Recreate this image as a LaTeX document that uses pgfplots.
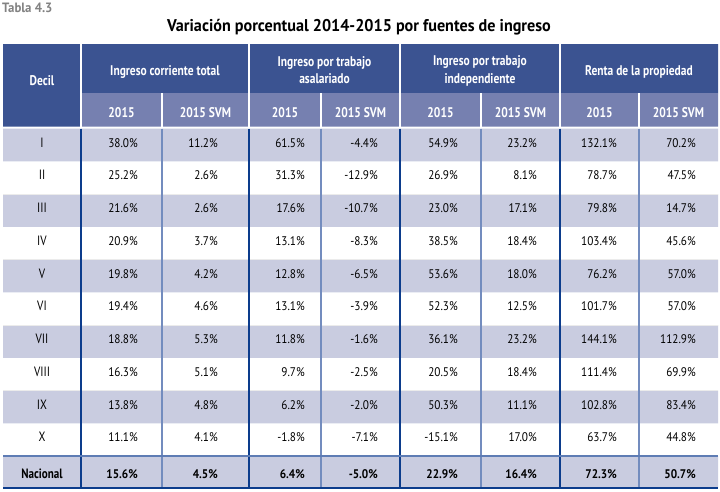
\documentclass[border=0pt]{standalone}
\usepackage{pgfplots}
\pgfplotsset{compat=1.18}
\usepackage{pgfplotstable}
\usepackage{fontspec}
\setmainfont{PT Sans}[FakeStretch=0.82]
\newfontfamily\numf{PT Sans}[FakeStretch=0.9]
\newfontfamily\titf{PT Sans}[FakeStretch=0.95]
\definecolor{hdark}{RGB}{59,83,145}
\definecolor{hsub}{RGB}{118,128,176}
\definecolor{shade}{RGB}{201,204,224}
\definecolor{lthick}{RGB}{12,60,140}
\definecolor{lthin}{RGB}{115,140,190}
\definecolor{tgray}{RGB}{130,130,130}

\pgfplotstableread{
y      dec   c1    c2    c3    c4     c5    c6    c7    c8
147    I     38.0  11.2  61.5  -4.4   54.9  23.2  132.1 70.2
179.75 II    25.2  2.6   31.3  -12.9  26.9  8.1   78.7  47.5
212.5  III   21.6  2.6   17.6  -10.7  23.0  17.1  79.8  14.7
245.25 IV    20.9  3.7   13.1  -8.3   38.5  18.4  103.4 45.6
278    V     19.8  4.2   12.8  -6.5   53.6  18.0  76.2  57.0
310.75 VI    19.4  4.6   13.1  -3.9   52.3  12.5  101.7 57.0
343.5  VII   18.8  5.3   11.8  -1.6   36.1  23.2  144.1 112.9
376.25 VIII  16.3  5.1   9.7   -2.5   20.5  18.4  111.4 69.9
409    IX    13.8  4.8   6.2   -2.0   50.3  11.1  102.8 83.4
441.75 X     11.1  4.1   -1.8  -7.1   -15.1 17.0  63.7  44.8
}\deciles
\pgfplotstableread{
y      dec      c1    c2    c3    c4     c5    c6    c7    c8
478    Nacional 15.6  4.5   6.4   -5.0   22.9  16.4  72.3  50.7
}\nacional

\newcommand{\cell}[5]{\addplot[fill=#1, draw=none, forget plot] coordinates {(#2,#3) (#4,#3) (#4,#5) (#2,#5) (#2,#3)};}
\newcommand{\vseg}[5]{\addplot[draw=#1, line width=#2, forget plot] coordinates {(#3,#4) (#3,#5)};}

\pgfplotsset{
  txt/.style={draw=none, mark=none, forget plot, nodes near coords, point meta=explicit symbolic,
    every node near coord/.append style={inner sep=0pt, anchor=base east, text=black}},
  numfont/.style={every node near coord/.append style={font=\numf\fontsize{12.5}{14}\selectfont}},
  boldnum/.style={every node near coord/.append style={font=\numf\fontsize{12.5}{14}\selectfont\bfseries}},
  decfont/.style={every node near coord/.append style={font=\fontsize{13.5}{15}\selectfont}},
  decbold/.style={every node near coord/.append style={font=\fontsize{13.5}{15}\selectfont\bfseries}},
  hdr/.style={draw=none, mark=none, forget plot, nodes near coords, point meta=explicit symbolic,
    every node near coord/.append style={inner sep=0pt, anchor=base, text=white, font=\fontsize{14}{16}\selectfont\bfseries}},
}

\begin{document}
\begin{tikzpicture}
\begin{axis}[
  width=720pt, height=491pt, scale only axis,
  xmin=0, xmax=720, ymin=0, ymax=491, y dir=reverse,
  hide axis, clip=false,
]
% background
\cell{white}{0}{0}{720}{491}
% header blocks
\cell{hdark}{3}{44}{718}{93}
\cell{hdark}{3}{44}{81}{126.5}
\cell{hsub}{81}{93}{718}{126.5}
% white separators in header
\vseg{white}{2pt}{81}{44}{126.5}
\vseg{white}{2pt}{249}{44}{126.5}
\vseg{white}{2pt}{400}{44}{126.5}
\vseg{white}{2pt}{560}{44}{126.5}
\vseg{white}{2pt}{162}{93}{126.5}
\vseg{white}{2pt}{321}{93}{126.5}
\vseg{white}{2pt}{481}{93}{126.5}
\vseg{white}{2pt}{639}{93}{126.5}
% shaded rows
\cell{shade}{3}{128.5}{718}{161.25}
\cell{shade}{3}{194}{718}{226.75}
\cell{shade}{3}{259.5}{718}{292.25}
\cell{shade}{3}{325}{718}{357.75}
\cell{shade}{3}{390.5}{718}{423.25}
\cell{shade}{3}{456}{718}{488}
% light separators between rows
\addplot[draw=black!8, line width=0.8pt, forget plot] coordinates {(3,194) (718,194)};
\addplot[draw=black!8, line width=0.8pt, forget plot] coordinates {(3,259.5) (718,259.5)};
\addplot[draw=black!8, line width=0.8pt, forget plot] coordinates {(3,325) (718,325)};
\addplot[draw=black!8, line width=0.8pt, forget plot] coordinates {(3,390.5) (718,390.5)};
% vertical grid lines in body
\vseg{lthin}{1.5pt}{162}{128.5}{488}
\vseg{lthin}{1.5pt}{321}{128.5}{488}
\vseg{lthin}{1.5pt}{481}{128.5}{488}
\vseg{lthin}{1.5pt}{639}{128.5}{488}
\vseg{lthick}{2pt}{81}{128.5}{488}
\vseg{lthick}{2pt}{249}{128.5}{488}
\vseg{lthick}{2pt}{400}{128.5}{488}
\vseg{lthick}{2pt}{560}{128.5}{488}
% Nacional borders
\addplot[draw=lthin!80!lthick, line width=1.5pt, forget plot] coordinates {(3,456) (718,456)};
\addplot[draw=lthick, line width=2pt, forget plot] coordinates {(3,488) (718,488)};

% title
\addplot[draw=none, mark=none, forget plot, nodes near coords, point meta=explicit symbolic,
  every node near coord/.append style={inner sep=0pt, anchor=base west, text=tgray, font=\titf\fontsize{13.5}{15}\selectfont\bfseries}]
  coordinates {(2,12) [Tabla 4.3]};
\addplot[draw=none, mark=none, forget plot, nodes near coords, point meta=explicit symbolic,
  every node near coord/.append style={inner sep=0pt, anchor=base, text=black, font=\titf\fontsize{17}{19}\selectfont\bfseries}]
  coordinates {(359,31) [Variación porcentual 2014-2015 por fuentes de ingreso]};

% header texts
\addplot[hdr] coordinates {(42,85) [Decil] (165,75) [Ingreso corriente total]
  (324.5,66) [Ingreso por trabajo] (324.5,83) [asalariado]
  (480,65) [Ingreso por trabajo] (480,83) [independiente]
  (639,75) [Renta de la propiedad]};
\addplot[hdr] coordinates {(121.5,117) [2015] (205.5,117) [2015 SVM]
  (285,117) [2015] (360.5,117) [2015 SVM]
  (440.5,117) [2015] (520.5,117) [2015 SVM]
  (599.5,117) [2015] (678.5,117) [2015 SVM]};

% decile labels
\addplot[txt, decfont, every node near coord/.append style={anchor=base}] table[x expr=42, y=y, meta=dec] {\deciles};
\addplot[txt, decbold, every node near coord/.append style={anchor=base}] table[x expr=42, y=y, meta=dec] {\nacional};

% values
\pgfplotsset{pct/.style={nodes near coords={\pgfplotspointmeta\%}}}
\addplot[txt, numfont, pct] table[x expr=138, y=y, meta=c1] {\deciles};
\addplot[txt, numfont, pct] table[x expr=218, y=y, meta=c2] {\deciles};
\addplot[txt, numfont, pct] table[x expr=305, y=y, meta=c3] {\deciles};
\addplot[txt, numfont, pct] table[x expr=378, y=y, meta=c4] {\deciles};
\addplot[txt, numfont, pct] table[x expr=458, y=y, meta=c5] {\deciles};
\addplot[txt, numfont, pct] table[x expr=537, y=y, meta=c6] {\deciles};
\addplot[txt, numfont, pct] table[x expr=617, y=y, meta=c7] {\deciles};
\addplot[txt, numfont, pct] table[x expr=696, y=y, meta=c8] {\deciles};

\addplot[txt, boldnum, pct] table[x expr=138, y=y, meta=c1] {\nacional};
\addplot[txt, boldnum, pct] table[x expr=218, y=y, meta=c2] {\nacional};
\addplot[txt, boldnum, pct] table[x expr=305, y=y, meta=c3] {\nacional};
\addplot[txt, boldnum, pct] table[x expr=378, y=y, meta=c4] {\nacional};
\addplot[txt, boldnum, pct] table[x expr=458, y=y, meta=c5] {\nacional};
\addplot[txt, boldnum, pct] table[x expr=537, y=y, meta=c6] {\nacional};
\addplot[txt, boldnum, pct] table[x expr=617, y=y, meta=c7] {\nacional};
\addplot[txt, boldnum, pct] table[x expr=696, y=y, meta=c8] {\nacional};
\end{axis}
\end{tikzpicture}
\end{document}
